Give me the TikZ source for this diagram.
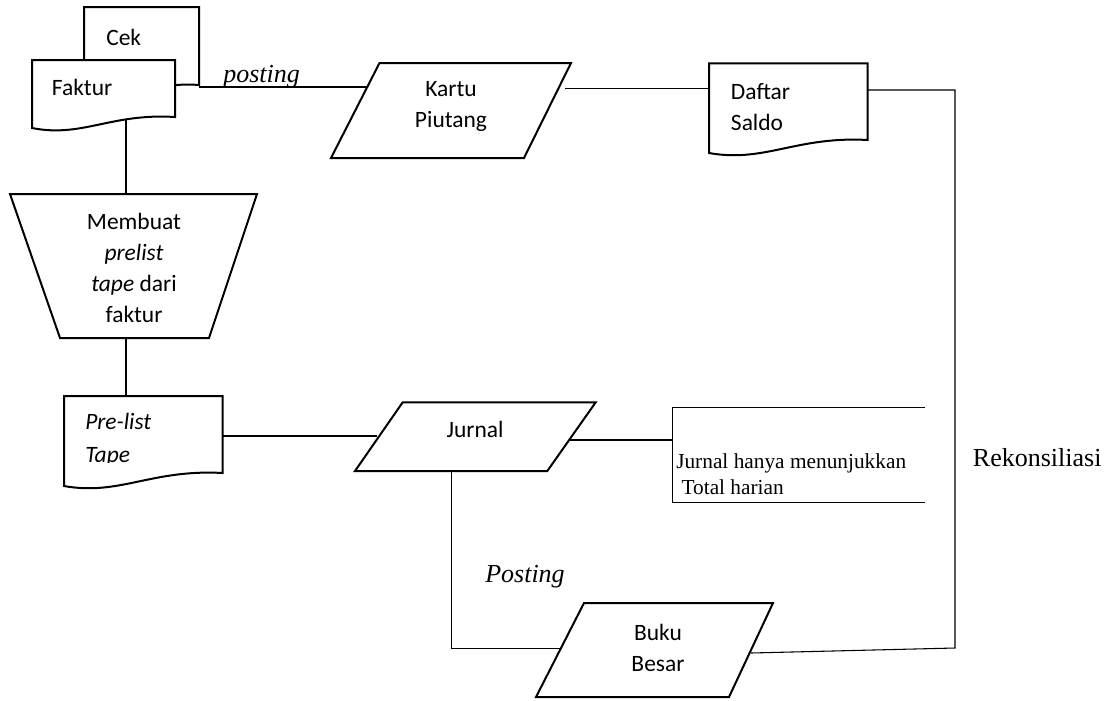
\documentclass[tikz,border=0pt]{standalone}
\usepackage{fontspec}
\newfontfamily\calib{Carlito}
\newfontfamily\tnr{Liberation Serif}
\begin{document}
% document symbol: left x, right x, top y, bottom-left y, bottom-right y
\newcommand\docsymbol[5]{%
  \filldraw[shapeline] (#1,#3) -- (#2,#3) -- (#2,#5)
    .. controls ({#1+0.55*(#2-#1)},{#5-4}) and ({#1+0.35*(#2-#1)},{#4+10}) .. (#1,#4) -- cycle;}
\begin{tikzpicture}[x=0.75pt,y=-0.75pt,
  shapeline/.style={draw=black,fill=white,line width=1.5pt,line join=miter},
  wire/.style={draw=black,line width=0.8pt},
  thinwire/.style={draw=black,line width=0.7pt},
  lbl/.style={inner sep=0pt,font=\calib\fontsize{17.6}{23.3}\selectfont},
  note/.style={inner sep=0pt,font=\tnr\fontsize{19.5}{24}\selectfont\itshape},
  remark/.style={inner sep=0pt,font=\tnr\fontsize{16}{19.5}\selectfont}]
\useasboundingbox (0,0) rectangle (1112,700);

% ---- documents and stores ----
\docsymbol{84}{199}{7}{96}{85}
\node[lbl,anchor=west] (cek) at (106,37) {Cek};
\docsymbol{32}{175}{60}{128}{117}
\node[lbl,anchor=west] (faktur) at (51.7,87) {Faktur};

% manual operation
\filldraw[shapeline] (10,194) -- (257,194) -- (209,338) -- (60,338) -- cycle;
\node[lbl,align=center] (membuat) at (134,268) {Membuat\\\textit{prelist}\\\textit{tape} dari\\faktur};

% Kartu Piutang
\filldraw[shapeline] (379.5,63) -- (571,63) -- (524,158) -- (331,158) -- cycle;
\node[lbl,align=center] (kartu) at (451,106.5) {Kartu\\Piutang};

% Daftar Saldo
\docsymbol{709}{867.7}{63.3}{153}{140}
\node[lbl,align=left,anchor=west] (daftar) at (730.7,107) {Daftar\\Saldo};

% Pre-list Tape
\docsymbol{64}{222.7}{396}{486}{473}
\begin{scope}
  \clip (64,396) rectangle (222.7,462);
  \node[lbl,align=left,anchor=west,font=\calib\fontsize{17.6}{24.7}\selectfont\itshape] (prelist) at (85,440) {Pre-list\\Tape};
\end{scope}

% Jurnal
\filldraw[shapeline] (402.7,402.3) -- (595.7,402.3) -- (547.3,471) -- (355,471) -- cycle;
\node[lbl] (jurnal) at (475,429) {Jurnal};

% Buku Besar
\filldraw[shapeline] (584,603) -- (773,603) -- (729,697) -- (536,697) -- cycle;
\node[lbl,align=center] (buku) at (658,648) {Buku\\Besar};

% ---- connection points ----
\coordinate (cekR) at (199,87);
\coordinate (kartuL) at (367,87);
\coordinate (faktB) at (126,120);
\coordinate (trapT) at (126,194);
\coordinate (trapB) at (126,338);
\coordinate (preT) at (126,396);
\coordinate (kartuR) at (565,88.5);
\coordinate (daftarL) at (709,88.5);
\coordinate (daftarR) at (867.7,90);
\coordinate (recTop) at (955,90);
\coordinate (recBot) at (955,648);
\coordinate (bukuR) at (751,653);
\coordinate (preR) at (222.7,436);
\coordinate (jurnalL) at (377,436);
\coordinate (jurnalR) at (569.5,440);
\coordinate (noteL) at (672.7,440);
\coordinate (jurnalB) at (451.7,471);
\coordinate (postCorner) at (451.7,648.3);
\coordinate (bukuL) at (561.5,648.3);

% ---- connectors ----
\draw[wire] (cekR) -- (kartuL);
\draw[wire] (faktB) -- (trapT);
\draw[wire] (trapB) -- (preT);
\draw[wire] (kartuR) -- (daftarL);
\draw[wire] (daftarR) -- (recTop) -- (recBot) -- (bukuR);
\draw[wire] (preR) -- (jurnalL);
\draw[wire] (jurnalR) -- (noteL);
\draw[wire] (jurnalB) -- (postCorner) -- (bukuL);

% annotation bracket
\draw[thinwire] (925,407) -- (672.7,407) -- (672.7,502) -- (925,502);
\node[remark,align=left,anchor=west] (catatan) at (676,474.5) {Jurnal hanya menunjukkan\\\ Total harian};

% ---- labels ----
\node[note,anchor=west] (posting1) at (223,76.5) {posting};
\node[note,anchor=west] (posting2) at (485,577) {Posting};
\node[note,anchor=west,font=\tnr\fontsize{19.5}{24}\selectfont\upshape] (rekon) at (972.7,458) {Rekonsiliasi};
\end{tikzpicture}
\end{document}
